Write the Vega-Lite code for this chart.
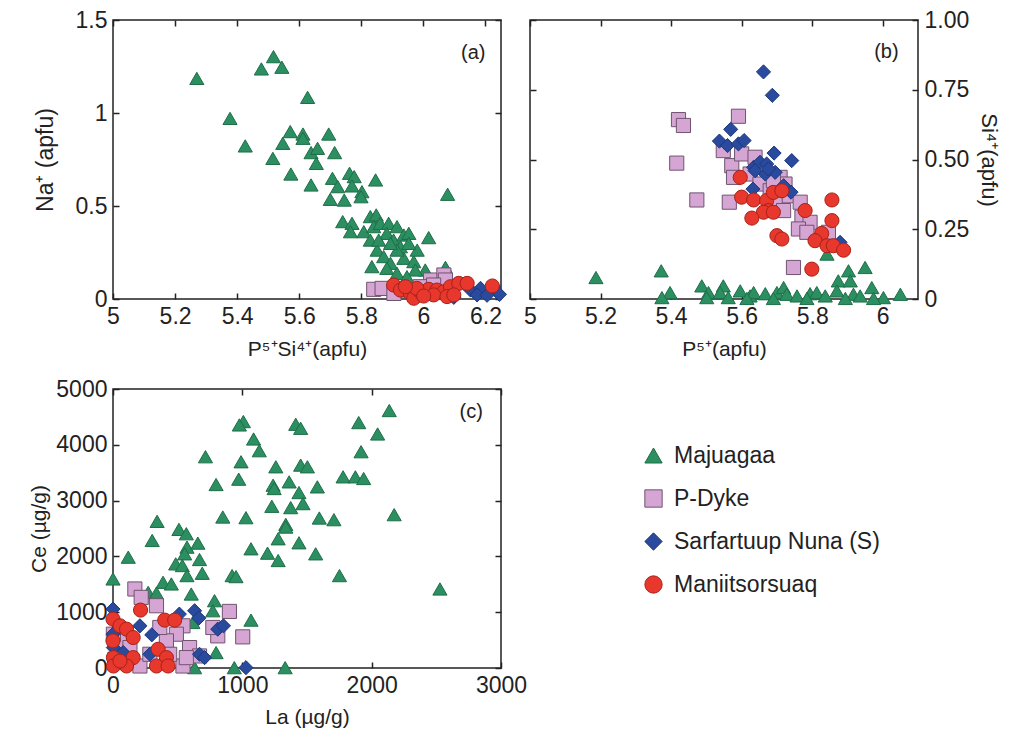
{
"$schema": "https://vega.github.io/schema/vega-lite/v6.json",
"autosize": "none",
"padding": {"left": 113, "top": 20, "right": 898, "bottom": 716},
"config": {
 "font": "Liberation Sans",
 "view": {"stroke": "#222", "strokeWidth": 1.5},
 "axis": {"grid": false, "domain": false, "tickSize": -6, "tickColor": "#222", "tickWidth": 1.5, "labelFontSize": 23, "labelColor": "#222", "titleFontSize": 21, "titleFontWeight": "normal", "titleColor": "#222", "labelPadding": 12, "labelFlush": false, "labelOverlap": false},
 "legend": {"orient": "none", "legendX": 529, "legendY": 424, "labelFontSize": 23, "labelColor": "#222", "labelLimit": 0, "symbolSize": 300, "rowPadding": 19, "labelOffset": 9, "symbolStrokeWidth": 1}
},
"datasets": {
"a": [
{"g":"Majuagaa","x":5.27,"y":1.186},{"g":"Majuagaa","x":5.377,"y":0.971},{"g":"Majuagaa","x":5.426,"y":0.823},{"g":"Majuagaa","x":5.478,"y":1.237},{"g":"Majuagaa","x":5.517,"y":1.303},{"g":"Majuagaa","x":5.544,"y":1.246},{"g":"Majuagaa","x":5.515,"y":0.756},{"g":"Majuagaa","x":5.571,"y":0.9},{"g":"Majuagaa","x":5.547,"y":0.837},{"g":"Majuagaa","x":5.573,"y":0.672},{"g":"Majuagaa","x":5.612,"y":0.887},{"g":"Majuagaa","x":5.612,"y":0.864},{"g":"Majuagaa","x":5.627,"y":1.084},{"g":"Majuagaa","x":5.638,"y":0.787},{"g":"Majuagaa","x":5.659,"y":0.81},{"g":"Majuagaa","x":5.655,"y":0.729},{"g":"Majuagaa","x":5.638,"y":0.613},{"g":"Majuagaa","x":5.695,"y":0.887},{"g":"Majuagaa","x":5.714,"y":0.787},{"g":"Majuagaa","x":5.707,"y":0.649},{"g":"Majuagaa","x":5.724,"y":0.604},{"g":"Majuagaa","x":5.7,"y":0.536},{"g":"Majuagaa","x":5.745,"y":0.532},{"g":"Majuagaa","x":5.762,"y":0.676},{"g":"Majuagaa","x":5.777,"y":0.658},{"g":"Majuagaa","x":5.77,"y":0.608},{"g":"Majuagaa","x":5.802,"y":0.577},{"g":"Majuagaa","x":5.799,"y":0.55},{"g":"Majuagaa","x":5.846,"y":0.64},{"g":"Majuagaa","x":6.078,"y":0.563},{"g":"Majuagaa","x":5.74,"y":0.416},{"g":"Majuagaa","x":5.77,"y":0.407},{"g":"Majuagaa","x":5.765,"y":0.362},{"g":"Majuagaa","x":5.808,"y":0.362},{"g":"Majuagaa","x":5.829,"y":0.443},{"g":"Majuagaa","x":5.848,"y":0.452},{"g":"Majuagaa","x":5.84,"y":0.389},{"g":"Majuagaa","x":5.829,"y":0.317},{"g":"Majuagaa","x":5.861,"y":0.407},{"g":"Majuagaa","x":5.888,"y":0.407},{"g":"Majuagaa","x":5.915,"y":0.389},{"g":"Majuagaa","x":5.882,"y":0.353},{"g":"Majuagaa","x":5.904,"y":0.317},{"g":"Majuagaa","x":5.937,"y":0.344},{"g":"Majuagaa","x":5.953,"y":0.353},{"g":"Majuagaa","x":5.926,"y":0.281},{"g":"Majuagaa","x":5.851,"y":0.263},{"g":"Majuagaa","x":5.872,"y":0.228},{"g":"Majuagaa","x":5.894,"y":0.192},{"g":"Majuagaa","x":5.834,"y":0.174},{"g":"Majuagaa","x":5.882,"y":0.165},{"g":"Majuagaa","x":5.937,"y":0.219},{"g":"Majuagaa","x":5.969,"y":0.201},{"g":"Majuagaa","x":5.98,"y":0.263},{"g":"Majuagaa","x":6.017,"y":0.33},{"g":"Majuagaa","x":6.006,"y":0.156},{"g":"Majuagaa","x":5.974,"y":0.156},{"g":"Majuagaa","x":5.915,"y":0.138},{"g":"Majuagaa","x":5.947,"y":0.12},{"g":"Majuagaa","x":6.071,"y":0.17},{"g":"Majuagaa","x":5.915,"y":0.263},{"g":"Majuagaa","x":5.894,"y":0.299},{"g":"Majuagaa","x":5.856,"y":0.317},{"g":"Majuagaa","x":5.953,"y":0.299},
{"g":"P-Dyke","x":5.84,"y":0.052},{"g":"P-Dyke","x":5.867,"y":0.057},{"g":"P-Dyke","x":6.023,"y":0.102},{"g":"P-Dyke","x":6.066,"y":0.129},{"g":"P-Dyke","x":6.071,"y":0.102},{"g":"P-Dyke","x":5.926,"y":0.048},{"g":"P-Dyke","x":5.99,"y":0.066},{"g":"P-Dyke","x":6.033,"y":0.075},{"g":"P-Dyke","x":5.905,"y":0.03},
{"g":"Sarfartuup Nuna (S)","x":6.152,"y":0.048},{"g":"Sarfartuup Nuna (S)","x":6.184,"y":0.057},{"g":"Sarfartuup Nuna (S)","x":6.227,"y":0.066},{"g":"Sarfartuup Nuna (S)","x":6.245,"y":0.025},{"g":"Sarfartuup Nuna (S)","x":6.173,"y":0.022},{"g":"Sarfartuup Nuna (S)","x":6.098,"y":0.009},{"g":"Sarfartuup Nuna (S)","x":6.205,"y":0.02},
{"g":"Maniitsorsuaq","x":5.904,"y":0.075},{"g":"Maniitsorsuaq","x":5.926,"y":0.048},{"g":"Maniitsorsuaq","x":5.958,"y":0.03},{"g":"Maniitsorsuaq","x":5.969,"y":0.004},{"g":"Maniitsorsuaq","x":5.99,"y":0.039},{"g":"Maniitsorsuaq","x":6.017,"y":0.052},{"g":"Maniitsorsuaq","x":6.044,"y":0.048},{"g":"Maniitsorsuaq","x":6.066,"y":0.039},{"g":"Maniitsorsuaq","x":6.087,"y":0.066},{"g":"Maniitsorsuaq","x":6.114,"y":0.084},{"g":"Maniitsorsuaq","x":6.141,"y":0.084},{"g":"Maniitsorsuaq","x":6.222,"y":0.07},{"g":"Maniitsorsuaq","x":5.979,"y":0.057},{"g":"Maniitsorsuaq","x":6.033,"y":0.022},{"g":"Maniitsorsuaq","x":6.076,"y":0.013},{"g":"Maniitsorsuaq","x":5.942,"y":0.066},{"g":"Maniitsorsuaq","x":6.001,"y":0.016},{"g":"Maniitsorsuaq","x":6.098,"y":0.022}
],
"b": [
{"g":"Majuagaa","x":5.187,"y":0.077},{"g":"Majuagaa","x":5.372,"y":0.101},{"g":"Majuagaa","x":5.397,"y":0.023},{"g":"Majuagaa","x":5.374,"y":0.005},{"g":"Majuagaa","x":5.487,"y":0.047},{"g":"Majuagaa","x":5.506,"y":0.023},{"g":"Majuagaa","x":5.548,"y":0.047},{"g":"Majuagaa","x":5.539,"y":0.023},{"g":"Majuagaa","x":5.562,"y":0.005},{"g":"Majuagaa","x":5.596,"y":0.029},{"g":"Majuagaa","x":5.624,"y":0.011},{"g":"Majuagaa","x":5.634,"y":0.023},{"g":"Majuagaa","x":5.667,"y":0.019},{"g":"Majuagaa","x":5.7,"y":0.023},{"g":"Majuagaa","x":5.719,"y":0.041},{"g":"Majuagaa","x":5.728,"y":0.017},{"g":"Majuagaa","x":5.757,"y":0.011},{"g":"Majuagaa","x":5.794,"y":0.019},{"g":"Majuagaa","x":5.813,"y":0.023},{"g":"Majuagaa","x":5.842,"y":0.161},{"g":"Majuagaa","x":5.874,"y":0.065},{"g":"Majuagaa","x":5.903,"y":0.101},{"g":"Majuagaa","x":5.908,"y":0.065},{"g":"Majuagaa","x":5.95,"y":0.113},{"g":"Majuagaa","x":5.969,"y":0.041},{"g":"Majuagaa","x":6.002,"y":0.005},{"g":"Majuagaa","x":6.05,"y":0.017},{"g":"Majuagaa","x":5.87,"y":0.029},{"g":"Majuagaa","x":5.917,"y":0.017},{"g":"Majuagaa","x":5.936,"y":0.011},{"g":"Majuagaa","x":5.837,"y":0.011},{"g":"Majuagaa","x":5.501,"y":0.005},{"g":"Majuagaa","x":5.615,"y":0.002},{"g":"Majuagaa","x":5.69,"y":0.002},{"g":"Majuagaa","x":5.785,"y":0.002},{"g":"Majuagaa","x":5.894,"y":0.002},{"g":"Majuagaa","x":5.974,"y":0.002},
{"g":"P-Dyke","x":5.421,"y":0.643},{"g":"P-Dyke","x":5.435,"y":0.622},{"g":"P-Dyke","x":5.591,"y":0.655},{"g":"P-Dyke","x":5.416,"y":0.487},{"g":"P-Dyke","x":5.473,"y":0.355},{"g":"P-Dyke","x":5.565,"y":0.347},{"g":"P-Dyke","x":5.548,"y":0.532},{"g":"P-Dyke","x":5.572,"y":0.478},{"g":"P-Dyke","x":5.6,"y":0.52},{"g":"P-Dyke","x":5.638,"y":0.508},{"g":"P-Dyke","x":5.624,"y":0.448},{"g":"P-Dyke","x":5.652,"y":0.412},{"g":"P-Dyke","x":5.681,"y":0.388},{"g":"P-Dyke","x":5.709,"y":0.436},{"g":"P-Dyke","x":5.723,"y":0.412},{"g":"P-Dyke","x":5.728,"y":0.37},{"g":"P-Dyke","x":5.695,"y":0.341},{"g":"P-Dyke","x":5.719,"y":0.317},{"g":"P-Dyke","x":5.766,"y":0.347},{"g":"P-Dyke","x":5.771,"y":0.293},{"g":"P-Dyke","x":5.794,"y":0.275},{"g":"P-Dyke","x":5.761,"y":0.251},{"g":"P-Dyke","x":5.785,"y":0.239},{"g":"P-Dyke","x":5.846,"y":0.239},{"g":"P-Dyke","x":5.747,"y":0.113},{"g":"P-Dyke","x":5.577,"y":0.436},{"g":"P-Dyke","x":5.69,"y":0.424},
{"g":"Sarfartuup Nuna (S)","x":5.662,"y":0.814},{"g":"Sarfartuup Nuna (S)","x":5.687,"y":0.73},{"g":"Sarfartuup Nuna (S)","x":5.569,"y":0.608},{"g":"Sarfartuup Nuna (S)","x":5.537,"y":0.566},{"g":"Sarfartuup Nuna (S)","x":5.56,"y":0.55},{"g":"Sarfartuup Nuna (S)","x":5.591,"y":0.556},{"g":"Sarfartuup Nuna (S)","x":5.607,"y":0.568},{"g":"Sarfartuup Nuna (S)","x":5.692,"y":0.523},{"g":"Sarfartuup Nuna (S)","x":5.742,"y":0.496},{"g":"Sarfartuup Nuna (S)","x":5.634,"y":0.472},{"g":"Sarfartuup Nuna (S)","x":5.652,"y":0.49},{"g":"Sarfartuup Nuna (S)","x":5.671,"y":0.484},{"g":"Sarfartuup Nuna (S)","x":5.667,"y":0.448},{"g":"Sarfartuup Nuna (S)","x":5.695,"y":0.454},{"g":"Sarfartuup Nuna (S)","x":5.676,"y":0.466},{"g":"Sarfartuup Nuna (S)","x":5.632,"y":0.394},{"g":"Sarfartuup Nuna (S)","x":5.719,"y":0.406},{"g":"Sarfartuup Nuna (S)","x":5.74,"y":0.383},{"g":"Sarfartuup Nuna (S)","x":5.879,"y":0.203},{"g":"Sarfartuup Nuna (S)","x":5.638,"y":0.46},
{"g":"Maniitsorsuaq","x":5.596,"y":0.436},{"g":"Maniitsorsuaq","x":5.6,"y":0.365},{"g":"Maniitsorsuaq","x":5.634,"y":0.355},{"g":"Maniitsorsuaq","x":5.671,"y":0.353},{"g":"Maniitsorsuaq","x":5.69,"y":0.382},{"g":"Maniitsorsuaq","x":5.714,"y":0.388},{"g":"Maniitsorsuaq","x":5.676,"y":0.317},{"g":"Maniitsorsuaq","x":5.662,"y":0.311},{"g":"Maniitsorsuaq","x":5.69,"y":0.311},{"g":"Maniitsorsuaq","x":5.629,"y":0.29},{"g":"Maniitsorsuaq","x":5.78,"y":0.317},{"g":"Maniitsorsuaq","x":5.856,"y":0.355},{"g":"Maniitsorsuaq","x":5.856,"y":0.281},{"g":"Maniitsorsuaq","x":5.7,"y":0.227},{"g":"Maniitsorsuaq","x":5.714,"y":0.215},{"g":"Maniitsorsuaq","x":5.827,"y":0.235},{"g":"Maniitsorsuaq","x":5.808,"y":0.209},{"g":"Maniitsorsuaq","x":5.842,"y":0.191},{"g":"Maniitsorsuaq","x":5.86,"y":0.191},{"g":"Maniitsorsuaq","x":5.889,"y":0.175},{"g":"Maniitsorsuaq","x":5.799,"y":0.107}
],
"c": [
{"g":"Majuagaa","x":2136,"y":4614},{"g":"Majuagaa","x":1008,"y":4416},{"g":"Majuagaa","x":977,"y":4356},{"g":"Majuagaa","x":1413,"y":4368},{"g":"Majuagaa","x":1451,"y":4296},{"g":"Majuagaa","x":1900,"y":4398},{"g":"Majuagaa","x":2046,"y":4194},{"g":"Majuagaa","x":1087,"y":4104},{"g":"Majuagaa","x":1131,"y":3894},{"g":"Majuagaa","x":1918,"y":3876},{"g":"Majuagaa","x":715,"y":3786},{"g":"Majuagaa","x":990,"y":3696},{"g":"Majuagaa","x":1259,"y":3606},{"g":"Majuagaa","x":1451,"y":3636},{"g":"Majuagaa","x":1503,"y":3606},{"g":"Majuagaa","x":1779,"y":3426},{"g":"Majuagaa","x":1874,"y":3426},{"g":"Majuagaa","x":1938,"y":3396},{"g":"Majuagaa","x":797,"y":3288},{"g":"Majuagaa","x":972,"y":3384},{"g":"Majuagaa","x":1238,"y":3276},{"g":"Majuagaa","x":1246,"y":3216},{"g":"Majuagaa","x":1362,"y":3336},{"g":"Majuagaa","x":1438,"y":3144},{"g":"Majuagaa","x":1469,"y":2946},{"g":"Majuagaa","x":1580,"y":3246},{"g":"Majuagaa","x":1228,"y":2898},{"g":"Majuagaa","x":1374,"y":2874},{"g":"Majuagaa","x":2174,"y":2748},{"g":"Majuagaa","x":341,"y":2628},{"g":"Majuagaa","x":849,"y":2706},{"g":"Majuagaa","x":1028,"y":2694},{"g":"Majuagaa","x":1336,"y":2574},{"g":"Majuagaa","x":1336,"y":2526},{"g":"Majuagaa","x":1595,"y":2688},{"g":"Majuagaa","x":1708,"y":2658},{"g":"Majuagaa","x":303,"y":2286},{"g":"Majuagaa","x":510,"y":2484},{"g":"Majuagaa","x":567,"y":2406},{"g":"Majuagaa","x":572,"y":2166},{"g":"Majuagaa","x":656,"y":2238},{"g":"Majuagaa","x":554,"y":2046},{"g":"Majuagaa","x":669,"y":1944},{"g":"Majuagaa","x":1067,"y":2136},{"g":"Majuagaa","x":1195,"y":2058},{"g":"Majuagaa","x":1277,"y":2316},{"g":"Majuagaa","x":1277,"y":1926},{"g":"Majuagaa","x":1438,"y":2244},{"g":"Majuagaa","x":1567,"y":2046},{"g":"Majuagaa","x":118,"y":1986},{"g":"Majuagaa","x":485,"y":1866},{"g":"Majuagaa","x":536,"y":1836},{"g":"Majuagaa","x":572,"y":1656},{"g":"Majuagaa","x":690,"y":1698},{"g":"Majuagaa","x":921,"y":1656},{"g":"Majuagaa","x":951,"y":1638},{"g":"Majuagaa","x":1751,"y":1656},{"g":"Majuagaa","x":2528,"y":1416},{"g":"Majuagaa","x":0,"y":1596},{"g":"Majuagaa","x":387,"y":1536},{"g":"Majuagaa","x":451,"y":1506},{"g":"Majuagaa","x":272,"y":1356},{"g":"Majuagaa","x":336,"y":1344},{"g":"Majuagaa","x":605,"y":1326},{"g":"Majuagaa","x":785,"y":1206},{"g":"Majuagaa","x":772,"y":1026},{"g":"Majuagaa","x":1067,"y":858},{"g":"Majuagaa","x":618,"y":816},{"g":"Majuagaa","x":797,"y":276},{"g":"Majuagaa","x":938,"y":6},{"g":"Majuagaa","x":1331,"y":6},{"g":"Majuagaa","x":631,"y":6},{"g":"Majuagaa","x":3,"y":966},
{"g":"P-Dyke","x":169,"y":1416},{"g":"P-Dyke","x":218,"y":1266},{"g":"P-Dyke","x":336,"y":1116},{"g":"P-Dyke","x":900,"y":1014},{"g":"P-Dyke","x":1003,"y":558},{"g":"P-Dyke","x":810,"y":576},{"g":"P-Dyke","x":772,"y":726},{"g":"P-Dyke","x":541,"y":756},{"g":"P-Dyke","x":490,"y":606},{"g":"P-Dyke","x":413,"y":486},{"g":"P-Dyke","x":592,"y":366},{"g":"P-Dyke","x":669,"y":216},{"g":"P-Dyke","x":541,"y":36},{"g":"P-Dyke","x":208,"y":36},{"g":"P-Dyke","x":54,"y":486},{"g":"P-Dyke","x":3,"y":606},{"g":"P-Dyke","x":131,"y":366},{"g":"P-Dyke","x":285,"y":246},{"g":"P-Dyke","x":438,"y":246},{"g":"P-Dyke","x":567,"y":186},{"g":"P-Dyke","x":362,"y":726},{"g":"P-Dyke","x":15,"y":156},
{"g":"Sarfartuup Nuna (S)","x":0,"y":1056},{"g":"Sarfartuup Nuna (S)","x":8,"y":846},{"g":"Sarfartuup Nuna (S)","x":208,"y":756},{"g":"Sarfartuup Nuna (S)","x":300,"y":594},{"g":"Sarfartuup Nuna (S)","x":513,"y":966},{"g":"Sarfartuup Nuna (S)","x":631,"y":1026},{"g":"Sarfartuup Nuna (S)","x":664,"y":894},{"g":"Sarfartuup Nuna (S)","x":810,"y":696},{"g":"Sarfartuup Nuna (S)","x":854,"y":756},{"g":"Sarfartuup Nuna (S)","x":669,"y":246},{"g":"Sarfartuup Nuna (S)","x":708,"y":186},{"g":"Sarfartuup Nuna (S)","x":1028,"y":6},{"g":"Sarfartuup Nuna (S)","x":0,"y":606},{"g":"Sarfartuup Nuna (S)","x":79,"y":276},{"g":"Sarfartuup Nuna (S)","x":3,"y":366},{"g":"Sarfartuup Nuna (S)","x":285,"y":246},
{"g":"Maniitsorsuaq","x":213,"y":1038},{"g":"Maniitsorsuaq","x":0,"y":876},{"g":"Maniitsorsuaq","x":54,"y":756},{"g":"Maniitsorsuaq","x":105,"y":696},{"g":"Maniitsorsuaq","x":400,"y":858},{"g":"Maniitsorsuaq","x":477,"y":858},{"g":"Maniitsorsuaq","x":156,"y":546},{"g":"Maniitsorsuaq","x":0,"y":486},{"g":"Maniitsorsuaq","x":3,"y":186},{"g":"Maniitsorsuaq","x":156,"y":186},{"g":"Maniitsorsuaq","x":105,"y":36},{"g":"Maniitsorsuaq","x":349,"y":336},{"g":"Maniitsorsuaq","x":413,"y":186},{"g":"Maniitsorsuaq","x":336,"y":36},{"g":"Maniitsorsuaq","x":426,"y":36},{"g":"Maniitsorsuaq","x":3,"y":36},{"g":"Maniitsorsuaq","x":54,"y":126}
]
},
"columns": 2,
"spacing": {"row": 90, "column": 29},
"bounds": "flush",
"concat": [
{
 "width": 388, "height": 279,
 "layer": [
  {"data": {"name": "a"}, "mark": {"type": "point", "filled": true, "size": 200, "strokeWidth": 1, "opacity": 1},
   "encoding": {
    "x": {"field": "x", "type": "quantitative", "scale": {"domain": [5, 6.25], "nice": false, "zero": false}, "axis": {"orient": "bottom", "values": [5, 5.2, 5.4, 5.6, 5.8, 6, 6.2], "format": "~g", "title": "P⁵⁺Si⁴⁺(apfu)", "titlePadding": 10}},
    "y": {"field": "y", "type": "quantitative", "scale": {"domain": [0, 1.5], "nice": false, "zero": false}, "axis": {"orient": "left", "values": [0, 0.5, 1, 1.5], "format": "~g", "title": "Na⁺ (apfu)", "titlePadding": 18, "titleFontSize": 23}},
    "fill": {"field": "g", "type": "nominal", "scale": {"domain": ["Majuagaa", "P-Dyke", "Sarfartuup Nuna (S)", "Maniitsorsuaq"], "range": ["#2b8f61", "#d5a5d3", "#2a4b9d", "#e8372c"]}, "legend": {"title": null}},
    "stroke": {"field": "g", "type": "nominal", "scale": {"domain": ["Majuagaa", "P-Dyke", "Sarfartuup Nuna (S)", "Maniitsorsuaq"], "range": ["#1f6e48", "#6f5470", "#1c377d", "#a82219"]}, "legend": {"title": null}},
    "shape": {"field": "g", "type": "nominal", "scale": {"domain": ["Majuagaa", "P-Dyke", "Sarfartuup Nuna (S)", "Maniitsorsuaq"], "range": ["triangle-up", "square", "diamond", "circle"]}, "legend": {"title": null}}
   }},
  {"data": {"name": "a"}, "mark": {"type": "point", "opacity": 0},
   "encoding": {
    "x": {"field": "x", "type": "quantitative", "scale": {"domain": [5, 6.25], "nice": false, "zero": false}, "axis": {"orient": "top", "values": [5, 5.2, 5.4, 5.6, 5.8, 6, 6.2], "labels": false, "title": null}},
    "y": {"field": "y", "type": "quantitative", "scale": {"domain": [0, 1.5], "nice": false, "zero": false}, "axis": {"orient": "right", "values": [0, 0.5, 1, 1.5], "labels": false, "title": null}}
   }},
  {"data": {"values": [{"label": "(a)"}]}, "mark": {"type": "text", "align": "right", "baseline": "middle", "fontSize": 20, "color": "#222"},
   "encoding": {"x": {"datum": 6.2, "type": "quantitative", "axis": null}, "y": {"datum": 1.32, "type": "quantitative", "axis": null}, "text": {"field": "label"}}}
 ]
},
{
 "width": 388, "height": 279,
 "layer": [
  {"data": {"name": "b"}, "mark": {"type": "point", "filled": true, "size": 200, "strokeWidth": 1, "opacity": 1},
   "encoding": {
    "x": {"field": "x", "type": "quantitative", "scale": {"domain": [5, 6.1], "nice": false, "zero": false}, "axis": {"orient": "bottom", "values": [5, 5.2, 5.4, 5.6, 5.8, 6], "format": "~g", "title": "P⁵⁺(apfu)", "titlePadding": 10}},
    "y": {"field": "y", "type": "quantitative", "scale": {"domain": [0, 1], "nice": false, "zero": false}, "axis": {"orient": "right", "values": [0, 0.25, 0.5, 0.75, 1], "labelExpr": "datum.value == 0 ? '0' : format(datum.value, '.2f')", "title": "Si⁴⁺(apfu)", "titleAngle": 90, "titlePadding": 8, "titleFontSize": 22}},
    "fill": {"field": "g", "type": "nominal", "legend": {"title": null}},
    "stroke": {"field": "g", "type": "nominal", "legend": {"title": null}},
    "shape": {"field": "g", "type": "nominal", "legend": {"title": null}}
   }},
  {"data": {"name": "b"}, "mark": {"type": "point", "opacity": 0},
   "encoding": {
    "x": {"field": "x", "type": "quantitative", "scale": {"domain": [5, 6.1], "nice": false, "zero": false}, "axis": {"orient": "top", "values": [5, 5.2, 5.4, 5.6, 5.8, 6], "labels": false, "title": null}},
    "y": {"field": "y", "type": "quantitative", "scale": {"domain": [0, 1], "nice": false, "zero": false}, "axis": {"orient": "left", "values": [0, 0.25, 0.5, 0.75, 1], "labels": false, "title": null}}
   }},
  {"data": {"values": [{"label": "(b)"}]}, "mark": {"type": "text", "align": "right", "baseline": "middle", "fontSize": 20, "color": "#222"},
   "encoding": {"x": {"datum": 6.045, "type": "quantitative", "axis": null}, "y": {"datum": 0.885, "type": "quantitative", "axis": null}, "text": {"field": "label"}}}
 ]
},
{
 "width": 388, "height": 279,
 "layer": [
  {"data": {"name": "c"}, "mark": {"type": "point", "filled": true, "size": 200, "strokeWidth": 1, "opacity": 1},
   "encoding": {
    "x": {"field": "x", "type": "quantitative", "scale": {"domain": [0, 3000], "nice": false}, "axis": {"orient": "bottom", "values": [0, 1000, 2000, 3000], "format": "d", "title": "La (µg/g)", "titlePadding": 9}},
    "y": {"field": "y", "type": "quantitative", "scale": {"domain": [0, 5000], "nice": false}, "axis": {"orient": "left", "values": [0, 1000, 2000, 3000, 4000, 5000], "format": "d", "title": "Ce (µg/g)", "titlePadding": 6}},
    "fill": {"field": "g", "type": "nominal", "legend": {"title": null}},
    "stroke": {"field": "g", "type": "nominal", "legend": {"title": null}},
    "shape": {"field": "g", "type": "nominal", "legend": {"title": null}}
   }},
  {"data": {"name": "c"}, "mark": {"type": "point", "opacity": 0},
   "encoding": {
    "x": {"field": "x", "type": "quantitative", "scale": {"domain": [0, 3000], "nice": false}, "axis": {"orient": "top", "values": [0, 1000, 2000, 3000], "labels": false, "title": null}},
    "y": {"field": "y", "type": "quantitative", "scale": {"domain": [0, 5000], "nice": false}, "axis": {"orient": "right", "values": [0, 1000, 2000, 3000, 4000, 5000], "labels": false, "title": null}}
   }},
  {"data": {"values": [{"label": "(c)"}]}, "mark": {"type": "text", "align": "right", "baseline": "middle", "fontSize": 20, "color": "#222"},
   "encoding": {"x": {"datum": 2860, "type": "quantitative", "axis": null}, "y": {"datum": 4586, "type": "quantitative", "axis": null}, "text": {"field": "label"}}}
 ]
}
]
}
